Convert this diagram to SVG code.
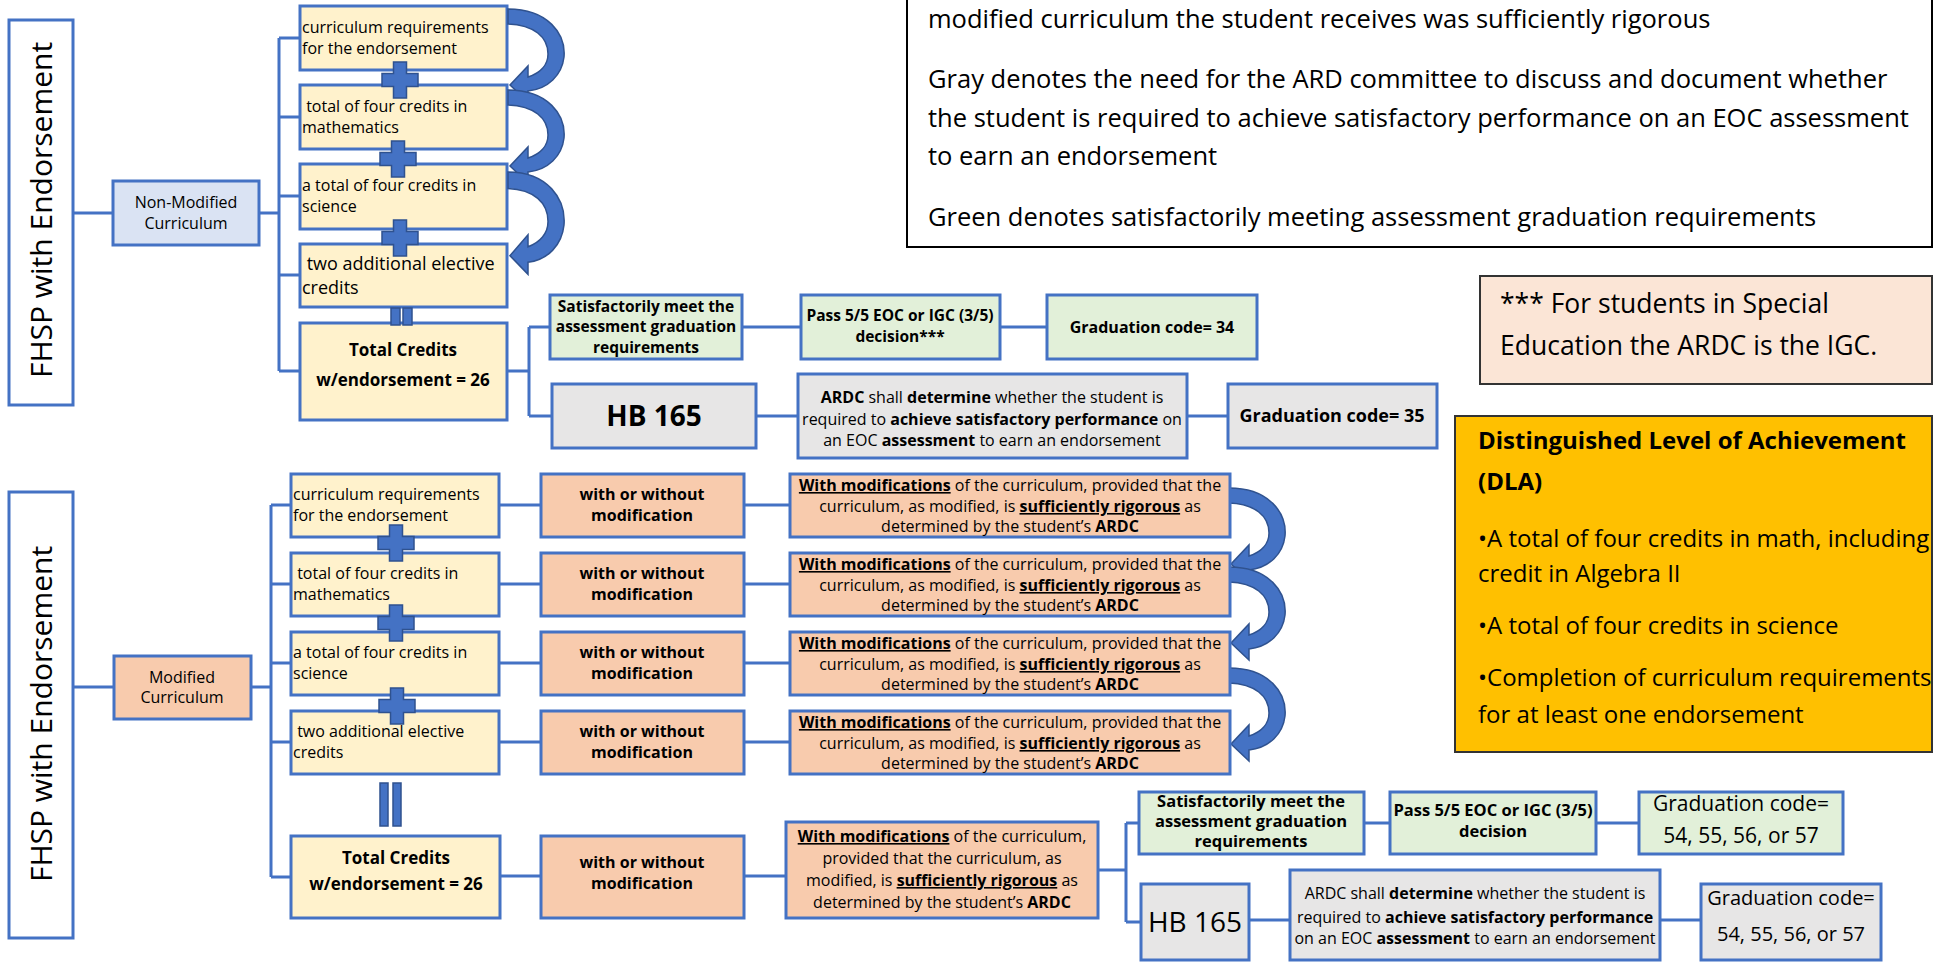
<svg xmlns="http://www.w3.org/2000/svg" xmlns:xlink="http://www.w3.org/1999/xlink" width="1940" height="966" viewBox="0 0 1940 966">
<style>
text{font-family:"Open Sans","Liberation Sans",sans-serif;fill:#000}
.ln{stroke:#4472c4;stroke-width:3;fill:none}
.bx{stroke:#4472c4;stroke-width:3}
.cream{fill:#fff2cc}.blue{fill:#dae3f3}.peach{fill:#f8cbad}.green{fill:#e2f0d9}.gray{fill:#e7e6e6}
.f16{font-size:16px}.f15{font-size:15.5px}.f165{font-size:16.5px}
.b{font-weight:bold}.u{text-decoration:underline}.c{text-anchor:middle}
.lab{font-size:30px}
.leg{font-size:25.5px}
.dla{font-size:24px}
.sym{fill:#4472c4;stroke:#2f528f;stroke-width:1.5}
</style>
<defs>
<path id="carrow" d="M0,0 C40,0 58,25 56,48 C54,66 40,80 20,82 L20,93 L2,76 L20,57 L20,68 C32,64 40,56 40,45 C40,28 26,16 0,15 Z"/>
<path id="plus" d="M-6.5,-18 h13 v11.5 h11.5 v13 h-11.5 v11.5 h-13 v-11.5 h-11.5 v-13 h11.5 z"/>
</defs>

<g id="connectors">
<path class="ln" d="M73,213 H113 M259,213 H279 M279,38 V371 M279,38 H300 M279,117 H300 M279,196 H300 M279,275 H300 M279,371 H300"/>
<path class="ln" d="M507,371 H529 M529,327 V416 M529,327 H550 M742,327 H801 M1000,327 H1047 M529,416 H552 M756,416 H798 M1187,416 H1228"/>
<path class="ln" d="M73,687 H114 M251,687 H271 M271,505 V877 M271,505 H291 M271,584 H291 M271,663 H291 M271,742 H291 M271,877 H291"/>
<path class="ln" d="M499,505 H541 M499,584 H541 M499,663 H541 M499,742 H541 M500,876 H541 M744,505 H790 M744,584 H790 M744,663 H790 M744,742 H790 M744,876 H786"/>
<path class="ln" d="M1098,870 H1126 M1126,823 V922 M1126,823 H1139 M1364,823 H1390 M1596,823 H1639 M1126,922 H1141 M1249,920 H1290 M1660,920 H1701"/>
</g>

<g id="label-top">
<rect x="9" y="20" width="64" height="385" fill="#fff" stroke="#4472c4" stroke-width="3"/>
<text class="lab c" transform="translate(52,210) rotate(-90)">FHSP with Endorsement</text>
</g>
<g id="nonmod">
<rect class="bx blue" x="113" y="181" width="146" height="64"/>
<text class="f16 c" x="186" y="208">Non-Modified</text>
<text class="f16 c" x="186" y="229">Curriculum</text>
</g>
<g id="t-b1">
<rect class="bx cream" x="300" y="6" width="207" height="64"/>
<text class="f16" x="302" y="33">curriculum requirements</text>
<text class="f16" x="302" y="54">for the endorsement</text>
</g>
<g id="t-b2">
<rect class="bx cream" x="300" y="85" width="207" height="64"/>
<text class="f16" x="302" y="112" xml:space="preserve"> total of four credits in</text>
<text class="f16" x="302" y="133">mathematics</text>
</g>
<g id="t-b3">
<rect class="bx cream" x="300" y="164" width="207" height="65"/>
<text class="f16" x="302" y="191">a total of four credits in</text>
<text class="f16" x="302" y="212">science</text>
</g>
<g id="t-b4">
<rect class="bx cream" x="300" y="244" width="207" height="63"/>
<text x="302" y="270" font-size="18" xml:space="preserve"> two additional elective</text>
<text x="302" y="294" font-size="18">credits</text>
</g>
<g id="t-total">
<rect class="bx cream" x="300" y="323" width="207" height="97"/>
<text class="b c" x="403" y="356" font-size="17">Total Credits</text>
<text class="b c" x="403" y="386" font-size="17">w/endorsement = 26</text>
</g>
<g id="t-symbols">
<use href="#plus" class="sym" x="400" y="80"/>
<use href="#plus" class="sym" x="398" y="159"/>
<use href="#plus" class="sym" x="400" y="238"/>
<rect class="sym" x="391" y="308" width="9" height="17"/>
<rect class="sym" x="403" y="308" width="9" height="17"/>
<use href="#carrow" class="sym" transform="translate(508,9)"/>
<use href="#carrow" class="sym" transform="translate(508,90)"/>
<use href="#carrow" class="sym" transform="translate(508,172) scale(1,1.1)"/>
</g>
<g id="t-satisf">
<rect class="bx green" x="550" y="295" width="192" height="64"/>
<text class="b c f15" x="646" y="312">Satisfactorily meet the</text>
<text class="b c f15" x="646" y="332">assessment graduation</text>
<text class="b c f15" x="646" y="353">requirements</text>
</g>
<g id="t-pass">
<rect class="bx green" x="801" y="295" width="199" height="64"/>
<text class="b c f15" x="900" y="321">Pass 5/5 EOC or IGC (3/5)</text>
<text class="b c f15" x="900" y="342">decision***</text>
</g>
<g id="t-grad34">
<rect class="bx green" x="1047" y="295" width="210" height="64"/>
<text class="b c f16" x="1152" y="333">Graduation code= 34</text>
</g>
<g id="t-hb">
<rect class="bx gray" x="552" y="384" width="204" height="64"/>
<text class="b c" x="654" y="426" font-size="28">HB 165</text>
</g>
<g id="t-ardc">
<rect class="bx gray" x="798" y="374" width="389" height="84"/>
<text class="c f16" x="992" y="403"><tspan class="b">ARDC</tspan> shall <tspan class="b">determine</tspan> whether the student is</text>
<text class="c f16" x="992" y="425">required to <tspan class="b">achieve satisfactory performance</tspan> on</text>
<text class="c f16" x="992" y="446">an EOC <tspan class="b">assessment</tspan> to earn an endorsement</text>
</g>
<g id="t-grad35">
<rect class="bx gray" x="1228" y="384" width="209" height="64"/>
<text class="b c" x="1332" y="422" font-size="18">Graduation code= 35</text>
</g>

<g id="legend">
<rect x="907" y="-3" width="1025" height="250" fill="#fff" stroke="#000" stroke-width="2"/>
<text class="leg" x="928" y="28">modified curriculum the student receives was sufficiently rigorous</text>
<text class="leg" x="928" y="88">Gray denotes the need for the ARD committee to discuss and document whether</text>
<text class="leg" x="928" y="127">the student is required to achieve satisfactory performance on an EOC assessment</text>
<text class="leg" x="928" y="165">to earn an endorsement</text>
<text class="leg" x="928" y="226">Green denotes satisfactorily meeting assessment graduation requirements</text>
</g>
<g id="igc-note">
<rect x="1480" y="276" width="452" height="108" fill="#fbe5d6" stroke="#333" stroke-width="2"/>
<text x="1500" y="313" font-size="26.5">*** For students in Special</text>
<text x="1500" y="355" font-size="26.5">Education the ARDC is the IGC.</text>
</g>
<g id="dla">
<rect x="1455" y="416" width="477" height="336" fill="#ffc000" stroke="#333" stroke-width="2"/>
<text class="dla b" x="1478" y="449">Distinguished Level of Achievement</text>
<text class="dla b" x="1478" y="490">(DLA)</text>
<text class="dla" x="1478" y="547">•A total of four credits in math, including</text>
<text class="dla" x="1478" y="582">credit in Algebra II</text>
<text class="dla" x="1478" y="634">•A total of four credits in science</text>
<text class="dla" x="1478" y="686">•Completion of curriculum requirements</text>
<text class="dla" x="1478" y="723">for at least one endorsement</text>
</g>

<g id="label-bottom">
<rect x="9" y="492" width="64" height="446" fill="#fff" stroke="#4472c4" stroke-width="3"/>
<text class="lab c" transform="translate(52,714) rotate(-90)">FHSP with Endorsement</text>
</g>
<g id="mod">
<rect class="bx peach" x="114" y="656" width="137" height="63"/>
<text class="f16 c" x="182" y="683">Modified</text>
<text class="f16 c" x="182" y="703">Curriculum</text>
</g>
<g id="b-r1">
<rect class="bx cream" x="291" y="474" width="208" height="63"/>
<text class="f16" x="293" y="500">curriculum requirements</text>
<text class="f16" x="293" y="521">for the endorsement</text>
</g>
<g id="b-r2">
<rect class="bx cream" x="291" y="553" width="208" height="63"/>
<text class="f16" x="293" y="579" xml:space="preserve"> total of four credits in</text>
<text class="f16" x="293" y="600">mathematics</text>
</g>
<g id="b-r3">
<rect class="bx cream" x="291" y="632" width="208" height="63"/>
<text class="f16" x="293" y="658">a total of four credits in</text>
<text class="f16" x="293" y="679">science</text>
</g>
<g id="b-r4">
<rect class="bx cream" x="291" y="711" width="208" height="63"/>
<text class="f16" x="293" y="737" xml:space="preserve"> two additional elective</text>
<text class="f16" x="293" y="758">credits</text>
</g>
<g id="b-total">
<rect class="bx cream" x="291" y="836" width="209" height="82"/>
<text class="b c" x="396" y="864" font-size="17">Total Credits</text>
<text class="b c" x="396" y="890" font-size="17">w/endorsement = 26</text>
</g>
<g id="b-symbols">
<use href="#plus" class="sym" x="396" y="543"/>
<use href="#plus" class="sym" x="396" y="623"/>
<use href="#plus" class="sym" x="397" y="706"/>
<rect class="sym" x="380" y="783" width="8" height="43"/>
<rect class="sym" x="393" y="783" width="8" height="43"/>
<use href="#carrow" class="sym" transform="translate(1229,488)"/>
<use href="#carrow" class="sym" transform="translate(1229,567)"/>
<use href="#carrow" class="sym" transform="translate(1229,668)"/>
</g>
<g id="b-ww1">
<rect class="bx peach" x="541" y="474" width="203" height="63"/>
<text class="b c f16" x="642" y="500">with or without</text>
<text class="b c f16" x="642" y="521">modification</text>
</g>
<g id="b-ww2">
<rect class="bx peach" x="541" y="553" width="203" height="63"/>
<text class="b c f16" x="642" y="579">with or without</text>
<text class="b c f16" x="642" y="600">modification</text>
</g>
<g id="b-ww3">
<rect class="bx peach" x="541" y="632" width="203" height="63"/>
<text class="b c f16" x="642" y="658">with or without</text>
<text class="b c f16" x="642" y="679">modification</text>
</g>
<g id="b-ww4">
<rect class="bx peach" x="541" y="711" width="203" height="63"/>
<text class="b c f16" x="642" y="737">with or without</text>
<text class="b c f16" x="642" y="758">modification</text>
</g>
<g id="b-ww5">
<rect class="bx peach" x="541" y="836" width="203" height="82"/>
<text class="b c f16" x="642" y="868">with or without</text>
<text class="b c f16" x="642" y="889">modification</text>
</g>
<g id="b-wm1">
<rect class="bx peach" x="790" y="474" width="440" height="63"/>
<text class="c f16" x="1010" y="491"><tspan class="b u">With modifications</tspan> of the curriculum, provided that the</text>
<text class="c f16" x="1010" y="512">curriculum, as modified, is <tspan class="b u">sufficiently rigorous</tspan> as</text>
<text class="c f16" x="1010" y="532">determined by the student’s <tspan class="b">ARDC</tspan></text>
</g>
<g id="b-wm2">
<rect class="bx peach" x="790" y="553" width="440" height="63"/>
<text class="c f16" x="1010" y="570"><tspan class="b u">With modifications</tspan> of the curriculum, provided that the</text>
<text class="c f16" x="1010" y="591">curriculum, as modified, is <tspan class="b u">sufficiently rigorous</tspan> as</text>
<text class="c f16" x="1010" y="611">determined by the student’s <tspan class="b">ARDC</tspan></text>
</g>
<g id="b-wm3">
<rect class="bx peach" x="790" y="632" width="440" height="63"/>
<text class="c f16" x="1010" y="649"><tspan class="b u">With modifications</tspan> of the curriculum, provided that the</text>
<text class="c f16" x="1010" y="670">curriculum, as modified, is <tspan class="b u">sufficiently rigorous</tspan> as</text>
<text class="c f16" x="1010" y="690">determined by the student’s <tspan class="b">ARDC</tspan></text>
</g>
<g id="b-wm4">
<rect class="bx peach" x="790" y="711" width="440" height="63"/>
<text class="c f16" x="1010" y="728"><tspan class="b u">With modifications</tspan> of the curriculum, provided that the</text>
<text class="c f16" x="1010" y="749">curriculum, as modified, is <tspan class="b u">sufficiently rigorous</tspan> as</text>
<text class="c f16" x="1010" y="769">determined by the student’s <tspan class="b">ARDC</tspan></text>
</g>
<g id="b-wm5">
<rect class="bx peach" x="786" y="822" width="312" height="96"/>
<text class="c f16" x="942" y="842"><tspan class="b u">With modifications</tspan> of the curriculum,</text>
<text class="c f16" x="942" y="864">provided that the curriculum, as</text>
<text class="c f16" x="942" y="886">modified, is <tspan class="b u">sufficiently rigorous</tspan> as</text>
<text class="c f16" x="942" y="908">determined by the student’s <tspan class="b">ARDC</tspan></text>
</g>
<g id="b-satisf">
<rect class="bx green" x="1139" y="792" width="225" height="62"/>
<text class="b c f165" x="1251" y="807">Satisfactorily meet the</text>
<text class="b c f165" x="1251" y="827">assessment graduation</text>
<text class="b c f165" x="1251" y="847">requirements</text>
</g>
<g id="b-pass">
<rect class="bx green" x="1390" y="792" width="206" height="62"/>
<text class="b c f165" x="1493" y="816">Pass 5/5 EOC or IGC (3/5)</text>
<text class="b c f165" x="1493" y="837">decision</text>
</g>
<g id="b-grad-a">
<rect class="bx green" x="1639" y="792" width="204" height="62"/>
<text class="c" x="1741" y="811" font-size="21">Graduation code=</text>
<text class="c" x="1741" y="843" font-size="21">54, 55, 56, or 57</text>
</g>
<g id="b-hb">
<rect class="bx gray" x="1141" y="884" width="108" height="76"/>
<text class="c" x="1195" y="932" font-size="28">HB 165</text>
</g>
<g id="b-ardc">
<rect class="bx gray" x="1290" y="870" width="370" height="90"/>
<text class="c f16" x="1475" y="899">ARDC shall <tspan class="b">determine</tspan> whether the student is</text>
<text class="c f16" x="1475" y="923">required to <tspan class="b">achieve satisfactory performance</tspan></text>
<text class="c f16" x="1475" y="944">on an EOC <tspan class="b">assessment</tspan> to earn an endorsement</text>
</g>
<g id="b-grad-b">
<rect class="bx gray" x="1701" y="884" width="180" height="76"/>
<text class="c" x="1791" y="905" font-size="20">Graduation code=</text>
<text class="c" x="1791" y="941" font-size="20">54, 55, 56, or 57</text>
</g>
</svg>
